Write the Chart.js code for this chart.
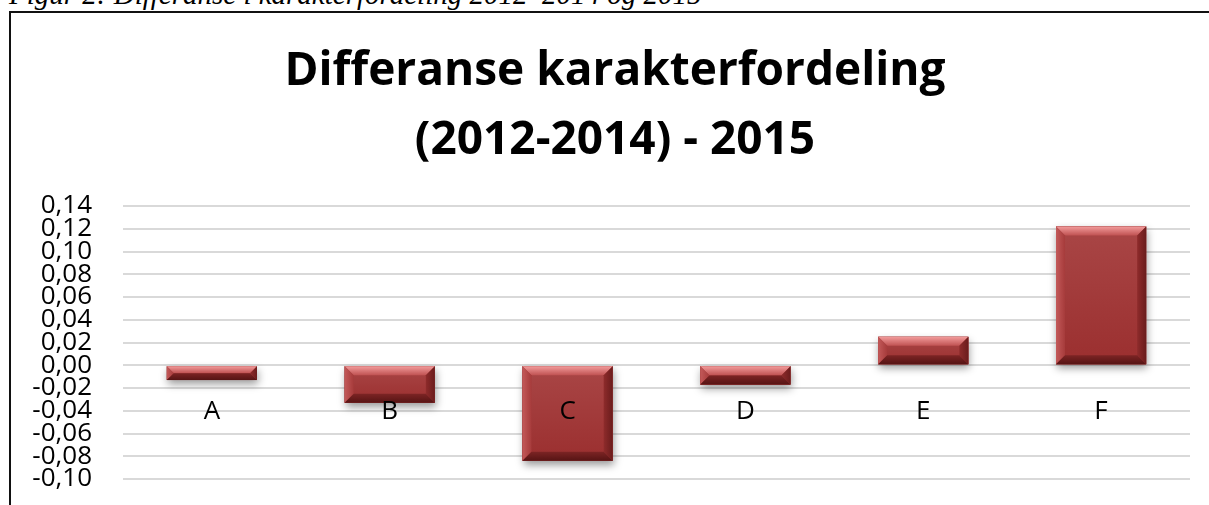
<!DOCTYPE html>
<html>
<head>
<meta charset="utf-8">
<script src="https://cdn.jsdelivr.net/npm/chart.js@4.4.1/dist/chart.umd.min.js"></script>
<style>
  html, body { margin: 0; padding: 0; background: #fff; width: 1209px; height: 505px; overflow: hidden; position: relative; }
  #caption { position: absolute; left: 9px; top: -20px; font: italic 29px/29px "Liberation Serif", "Times New Roman", serif; color: #000; white-space: nowrap; }
  #frame { position: absolute; left: 9px; top: 11px; width: 1300px; height: 600px; border-left: 2px solid #111; border-top: 2px solid #111; }
  #wrap { position: absolute; left: 11px; top: 13px; width: 1210px; height: 513px; }
</style>
</head>
<body>
<div id="caption">Figur 2: Differanse i karakterfordeling 2012–2014 og 2015</div>
<div id="frame"></div>
<div id="wrap"><canvas id="c"></canvas></div>
<script>
const categories = ['A', 'B', 'C', 'D', 'E', 'F'];
const differences = [-0.013, -0.033, -0.084, -0.017, 0.025, 0.122];
const yTicks = [-0.10, -0.08, -0.06, -0.04, -0.02, 0.00, 0.02, 0.04, 0.06, 0.08, 0.10, 0.12, 0.14];
const titleLines = ['Differanse karakterfordeling', '(2012-2014) - 2015'];

const bevelPlugin = {
  id: 'bevel',
  beforeDatasetsDraw(chart) {
    const ctx = chart.ctx;
    chart.getDatasetMeta(0).data.forEach(bar => {
      const p = bar.getProps(['x', 'y', 'base', 'width'], true);
      const l = p.x - p.width / 2, r = p.x + p.width / 2;
      const t = Math.min(p.y, p.base), b = Math.max(p.y, p.base);
      ctx.save();
      ctx.shadowColor = 'rgba(0,0,0,0.4)';
      ctx.shadowBlur = 8;
      ctx.shadowOffsetX = 1;
      ctx.shadowOffsetY = 4;
      ctx.fillStyle = '#7a2424';
      ctx.fillRect(l, t, r - l, b - t);
      ctx.restore();
    });
  },
  afterDatasetsDraw(chart) {
    const ctx = chart.ctx;
    chart.getDatasetMeta(0).data.forEach(bar => {
      const p = bar.getProps(['x', 'y', 'base', 'width'], true);
      const l = p.x - p.width / 2, r = p.x + p.width / 2;
      const t = Math.min(p.y, p.base), b = Math.max(p.y, p.base);
      const h = b - t, w = r - l;
      const s = Math.min(9, h / 2, w / 2);
      ctx.save();
      let g = ctx.createLinearGradient(0, t, 0, b);
      g.addColorStop(0, '#a94646');
      g.addColorStop(1, '#9b2f2f');
      ctx.fillStyle = g;
      ctx.fillRect(l, t, w, h);
      g = ctx.createLinearGradient(0, t, 0, t + s);
      g.addColorStop(0, '#f29b9b');
      g.addColorStop(1, '#c05252');
      ctx.fillStyle = g;
      ctx.beginPath();
      ctx.moveTo(l, t); ctx.lineTo(r, t); ctx.lineTo(r - s, t + s); ctx.lineTo(l + s, t + s); ctx.closePath();
      ctx.fill();
      g = ctx.createLinearGradient(l, 0, l + s, 0);
      g.addColorStop(0, '#c35959');
      g.addColorStop(1, '#a63b3b');
      ctx.fillStyle = g;
      ctx.beginPath();
      ctx.moveTo(l, t); ctx.lineTo(l + s, t + s); ctx.lineTo(l + s, b - s); ctx.lineTo(l, b); ctx.closePath();
      ctx.fill();
      g = ctx.createLinearGradient(r, 0, r - s, 0);
      g.addColorStop(0, '#6a1c1c');
      g.addColorStop(1, '#8e2b2b');
      ctx.fillStyle = g;
      ctx.beginPath();
      ctx.moveTo(r, t); ctx.lineTo(r - s, t + s); ctx.lineTo(r - s, b - s); ctx.lineTo(r, b); ctx.closePath();
      ctx.fill();
      g = ctx.createLinearGradient(0, b, 0, b - s);
      g.addColorStop(0, '#561414');
      g.addColorStop(1, '#7c2424');
      ctx.fillStyle = g;
      ctx.beginPath();
      ctx.moveTo(l, b); ctx.lineTo(r, b); ctx.lineTo(r - s, b - s); ctx.lineTo(l + s, b - s); ctx.closePath();
      ctx.fill();
      ctx.restore();
    });
  }
};

const labelFont = { family: '"Open Sans", "Liberation Sans", sans-serif', size: 26 };

new Chart(document.getElementById('c'), {
  type: 'bar',
  data: {
    labels: categories,
    datasets: [{
      data: differences,
      backgroundColor: '#9e3232',
      borderWidth: 0,
      categoryPercentage: 1,
      barPercentage: 0.507
    }]
  },
  options: {
    responsive: true,
    maintainAspectRatio: false,
    animation: false,
    events: [],
    layout: { padding: { left: 0, right: 2, top: 0, bottom: 47 } },
    plugins: {
      legend: { display: false },
      tooltip: { enabled: false },
      title: {
        display: true,
        text: titleLines,
        color: '#000',
        font: { family: '"Open Sans", "Liberation Sans", sans-serif', size: 46, weight: 'bold', lineHeight: 1.5 },
        padding: { top: 24, bottom: 31 }
      }
    },
    scales: {
      x: {
        position: { y: 0 },
        grid: { display: false },
        border: { display: false },
        ticks: { color: '#000', font: labelFont, padding: 23, autoSkip: false, maxRotation: 0, z: 1 }
      },
      y: {
        min: -0.10,
        max: 0.14,
        afterBuildTicks: (axis) => { axis.ticks = yTicks.map(v => ({ value: v })); },
        afterFit: (axis) => { axis.width = 112; },
        grid: { color: '#d9d9d9', lineWidth: 2, drawTicks: false },
        border: { display: false },
        ticks: {
          color: '#000',
          font: labelFont,
          padding: 31,
          autoSkip: false,
          callback: (v) => Number(v).toFixed(2).replace('.', ',')
        }
      },
      yRight: {
        position: 'right',
        afterFit: (axis) => { axis.width = 29; },
        grid: { display: false },
        border: { display: false },
        ticks: { display: false }
      }
    }
  },
  plugins: [bevelPlugin]
});
</script>
</body>
</html>
